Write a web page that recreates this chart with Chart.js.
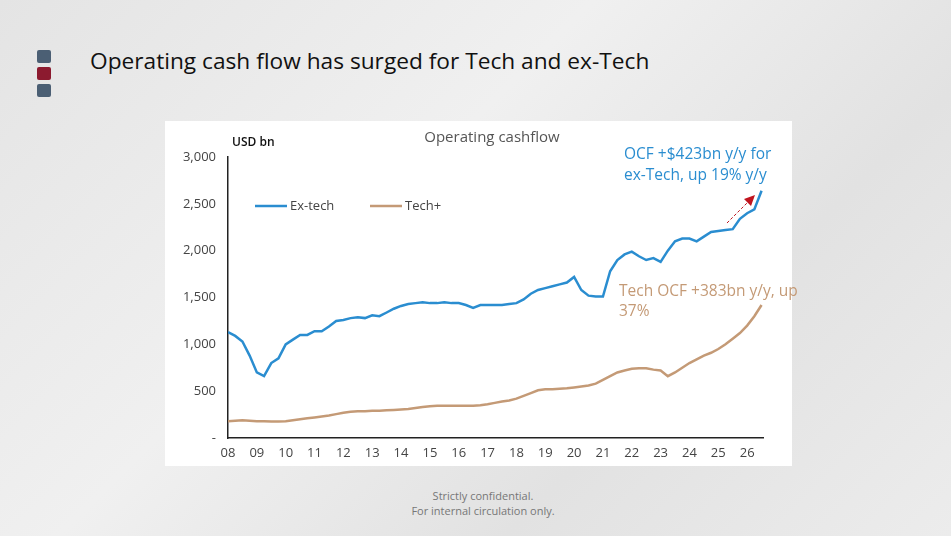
<!DOCTYPE html>
<html><head><meta charset="utf-8">
<script src="https://cdn.jsdelivr.net/npm/chart.js@4"></script>
<style>
body{margin:0;width:951px;height:536px;overflow:hidden;font-family:"Open Sans",sans-serif;
background:linear-gradient(135deg,#e4e4e4 0%,#f0f0f0 40%,#e2e2e2 70%,#ececec 100%);position:relative}
.sq{position:absolute;left:37px;width:14px;height:13px;border-radius:2px}
#title{position:absolute;left:90px;top:45px;font-size:22.7px;color:#111}
#panel{position:absolute;left:165px;top:121px;width:627px;height:345px;background:#fff}
#foot{position:absolute;left:0;width:966px;top:488px;text-align:center;font-size:11px;color:#777;line-height:15px}
canvas{position:absolute;left:0;top:0}
</style></head><body>
<div class="sq" style="top:50px;background:#4b5f74"></div>
<div class="sq" style="top:67px;background:#8c1a2f"></div>
<div class="sq" style="top:84px;background:#4b5f74"></div>
<div id="title">Operating cash flow has surged for Tech and ex-Tech</div>
<div id="panel"></div>
<div id="foot">Strictly confidential.<br>For internal circulation only.</div>
<canvas id="c" width="951" height="536"></canvas>
<script>
// quarterly points, 2008Q1 .. 2026 mid
const startYear = 2008;
const exTech = [1130,1090,1030,880, 700,660,800,850, 1000,1050,1100,1100, 1140,1140,1190,1250,
  1260,1280,1290,1280, 1310,1300,1340,1380, 1410,1430,1440,1450, 1440,1440,1450,1440,
  1440,1420,1390,1420, 1420,1420,1420,1430, 1440,1480,1540,1580, 1600,1620,1640,1660,
  1720,1580,1520,1510, 1510,1780,1900,1960, 1990,1940,1900,1920, 1880,2000,2100,2130,
  2130,2100,2150,2200, 2210,2220,2230,2340, 2400,2440,2640];
const techPlus = [180,185,190,185, 180,180,175,175, 180,190,200,210, 220,230,240,255,
  270,280,285,285, 290,290,295,300, 305,310,320,330, 340,345,345,345,
  345,345,345,350, 360,375,390,400, 420,450,480,510, 520,520,525,530,
  540,550,560,580, 620,660,700,720, 740,745,745,730, 720,660,700,750,
  800,840,880,910, 950,1000,1060,1120, 1200,1300,1420];
const yTicks = [0,500,1000,1500,2000,2500,3000];
const seriesNames = ['Ex-tech','Tech+'];
const blue = '#2a8dd0', tan = '#c49a76';

const pts = arr => arr.map((v,i)=>({x:startYear+i*0.25, y:v}));

const overlay = {
  id:'overlay',
  afterDraw(chart){
    const c = chart.ctx;
    c.save();
    c.font = '15px "Open Sans"'; c.fillStyle = '#555'; c.textAlign='center'; c.textBaseline='middle';
    c.fillText('Operating cashflow', 492, 138);
    c.font = '600 12px "Open Sans"'; c.fillStyle='#111'; c.textAlign='left';
    c.fillText('USD bn', 232, 143);
    // legend
    c.lineWidth = 2.5;
    [[255,blue,seriesNames[0]],[370,tan,seriesNames[1]]].forEach(([x,col,t])=>{
      c.strokeStyle=col; c.beginPath(); c.moveTo(x,206); c.lineTo(x+32,206); c.stroke();
      c.font='13px "Open Sans"'; c.fillStyle='#444'; c.fillText(t, x+35, 206);
    });
    // annotations
    c.font='15.5px "Open Sans"'; c.fillStyle=blue;
    c.fillText('OCF +$423bn y/y for', 624, 155);
    c.fillText('ex-Tech, up 19% y/y', 624, 176);
    c.fillStyle=tan;
    c.fillText('Tech OCF +383bn y/y, up', 619, 292);
    c.fillText('37%', 619, 312);
    // arrow
    c.strokeStyle='#c0141e'; c.lineWidth=1; c.setLineDash([3,2]);
    c.beginPath(); c.moveTo(727,223); c.lineTo(749,201); c.stroke();
    c.setLineDash([]); c.fillStyle='#c0141e';
    c.beginPath(); c.moveTo(755,195); c.lineTo(744,199); c.lineTo(751,206); c.closePath(); c.fill();
    c.restore();
  }
};

new Chart(document.getElementById('c'), {
  type:'line',
  data:{datasets:[
    {label:seriesNames[0], data:pts(exTech), borderColor:blue, borderWidth:2.5, pointRadius:0, tension:0},
    {label:seriesNames[1], data:pts(techPlus), borderColor:tan, borderWidth:2.5, pointRadius:0, tension:0}
  ]},
  options:{
    responsive:false, animation:false,
    layout:{padding:{top:157,right:188,left:0,bottom:0}},
    plugins:{legend:{display:false},tooltip:{enabled:false}},
    scales:{
      x:{type:'linear', min:2008, max:2026.55,
        afterBuildTicks:s=>{s.ticks=[];for(let y=2008;y<=2026;y++)s.ticks.push({value:y});},
        afterFit:s=>{s.height=98;},
        grid:{display:false, drawTicks:true, tickLength:5, tickColor:'#222'},
        border:{color:'#222', width:1.5},
        ticks:{color:'#444', font:{size:13,family:'"Open Sans"'}, padding:2, maxRotation:0,
          callback:v=>String(v%100).padStart(2,'0')}},
      y:{min:0, max:3000,
        afterBuildTicks:s=>{s.ticks=yTicks.map(v=>({value:v}));},
        afterFit:s=>{s.width=228;},
        grid:{display:false, drawTicks:false},
        border:{color:'#222', width:1.5},
        ticks:{color:'#444', font:{size:13,family:'"Open Sans"'}, padding:12,
          callback:v=>v===0?'-':v.toLocaleString('en-US')}}
    }
  },
  plugins:[overlay]
});
</script></body></html>
